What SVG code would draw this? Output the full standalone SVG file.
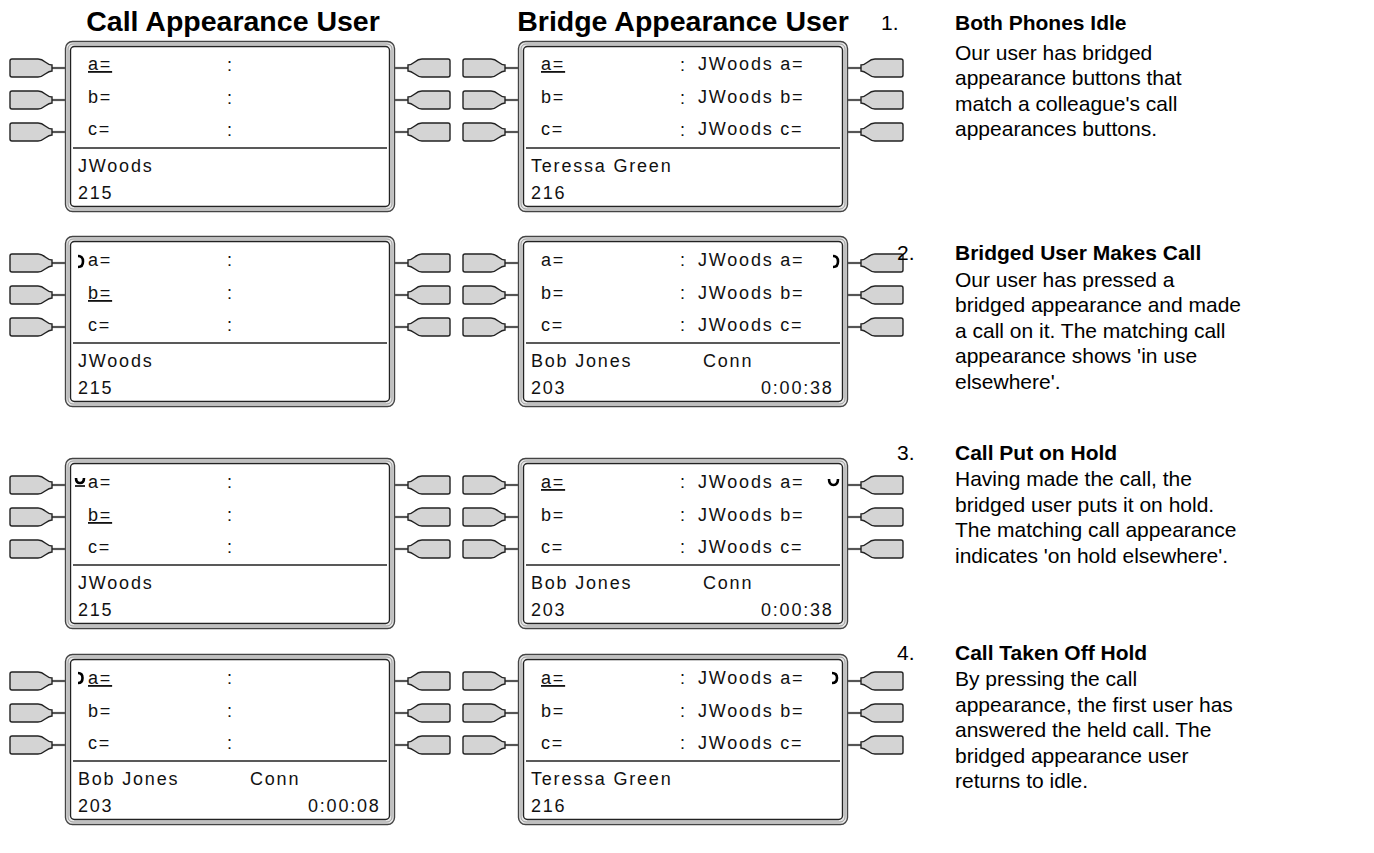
<svg xmlns="http://www.w3.org/2000/svg" xmlns:xlink="http://www.w3.org/1999/xlink" width="1374" height="853" viewBox="0 0 1374 853">
<style>
.t{font-family:"Liberation Sans",Arial,sans-serif;font-size:18px;letter-spacing:1.8px;fill:#111}
.u{text-decoration:underline}
.h{font-family:"Liberation Sans",Arial,sans-serif;font-size:28.5px;font-weight:bold;fill:#000}
.d{font-family:"Liberation Sans",Arial,sans-serif;font-size:21px;fill:#000}
.b{font-weight:bold}
.ic{fill:none;stroke:#000;stroke-width:2.6}
</style>
<defs>
<g id="btn">
<path d="M-13,0 H0" stroke="#555" stroke-width="2.2"/>
<path d="M-53,-9 H-27 C-20,-9 -19,-3 -13,-3 V3 C-19,3 -20,9 -27,9 H-53 Q-55,9 -55,7 V-7 Q-55,-9 -53,-9 Z" fill="#d4d4d4" stroke="#222" stroke-width="1.4"/>
</g>
<g id="frame">
<rect x="0.5" y="0.5" width="329" height="170" rx="7" fill="#e6e6e6" stroke="#444" stroke-width="1.4"/>
<rect x="3" y="3" width="324" height="165" rx="5" fill="none" stroke="#9a9a9a" stroke-width="1"/>
<rect x="5.5" y="5.5" width="319" height="160" rx="4" fill="#fff" stroke="#222" stroke-width="1.4"/>
<path d="M8,107 H322" stroke="#222" stroke-width="1.4"/>
<use xlink:href="#btn" x="0" y="27"/>
<use xlink:href="#btn" x="0" y="59"/>
<use xlink:href="#btn" x="0" y="91"/>
<use xlink:href="#btn" transform="translate(330,27) scale(-1,1)"/>
<use xlink:href="#btn" transform="translate(330,59) scale(-1,1)"/>
<use xlink:href="#btn" transform="translate(330,91) scale(-1,1)"/>
<text class="t" x="162" y="30">:</text>
<text class="t" x="162" y="63">:</text>
<text class="t" x="162" y="95">:</text>
</g>
</defs>
<rect width="1374" height="853" fill="#fff"/>

<g id="titles">
<text class="h" x="233" y="31" text-anchor="middle">Call Appearance User</text>
<text class="h" x="683" y="31" text-anchor="middle">Bridge Appearance User</text>
</g>

<!-- Row 1 -->
<g id="r1-call" transform="translate(65,41)">
<use xlink:href="#frame"/>
<text class="t u" x="23" y="29">a=</text>
<text class="t" x="23" y="62">b=</text>
<text class="t" x="23" y="94">c=</text>
<text class="t" x="13" y="131">JWoods</text>
<text class="t" x="13" y="158">215</text>
</g>
<g id="r1-bridge" transform="translate(518,41)">
<use xlink:href="#frame"/>
<text class="t u" x="23" y="29">a=</text>
<text class="t" x="23" y="62">b=</text>
<text class="t" x="23" y="94">c=</text>
<text class="t" x="180" y="29">JWoods a=</text>
<text class="t" x="180" y="62">JWoods b=</text>
<text class="t" x="180" y="94">JWoods c=</text>
<text class="t" x="13" y="131">Teressa Green</text>
<text class="t" x="13" y="158">216</text>
</g>

<!-- Row 2 -->
<g id="r2-call" transform="translate(65,236)">
<use xlink:href="#frame"/>
<path class="ic" d="M13,20 C17,20 18,23 18,25.5 C18,28 17,31 13,31"/>
<text class="t" x="23" y="30">a=</text>
<text class="t u" x="23" y="63">b=</text>
<text class="t" x="23" y="95">c=</text>
<text class="t" x="13" y="131">JWoods</text>
<text class="t" x="13" y="158">215</text>
</g>
<g id="r2-bridge" transform="translate(518,236)">
<use xlink:href="#frame"/>
<text class="t" x="23" y="30">a=</text>
<text class="t" x="23" y="63">b=</text>
<text class="t" x="23" y="95">c=</text>
<text class="t" x="180" y="30">JWoods a=</text>
<text class="t" x="180" y="63">JWoods b=</text>
<text class="t" x="180" y="95">JWoods c=</text>
<path class="ic" d="M315,20 C319,20 320,23 320,25.5 C320,28 319,31 315,31"/>
<text class="t" x="13" y="131">Bob Jones</text>
<text class="t" x="185" y="131">Conn</text>
<text class="t" x="13" y="158">203</text>
<text class="t" x="243" y="158">0:00:38</text>
</g>

<!-- Row 3 -->
<g id="r3-call" transform="translate(65,458)">
<use xlink:href="#frame"/>
<path class="ic" d="M11,20 Q11,25 15,25 Q19,25 19,20" stroke-width="2.2"/>
<path d="M10,28 H20" stroke="#000" stroke-width="1.6"/>
<text class="t" x="23" y="30">a=</text>
<text class="t u" x="23" y="63">b=</text>
<text class="t" x="23" y="95">c=</text>
<text class="t" x="13" y="131">JWoods</text>
<text class="t" x="13" y="158">215</text>
</g>
<g id="r3-bridge" transform="translate(518,458)">
<use xlink:href="#frame"/>
<text class="t u" x="23" y="30">a=</text>
<text class="t" x="23" y="63">b=</text>
<text class="t" x="23" y="95">c=</text>
<text class="t" x="180" y="30">JWoods a=</text>
<text class="t" x="180" y="63">JWoods b=</text>
<text class="t" x="180" y="95">JWoods c=</text>
<path class="ic" d="M311,21 Q311,27 315.5,27 Q320,27 320,21"/>
<text class="t" x="13" y="131">Bob Jones</text>
<text class="t" x="185" y="131">Conn</text>
<text class="t" x="13" y="158">203</text>
<text class="t" x="243" y="158">0:00:38</text>
</g>

<!-- Row 4 -->
<g id="r4-call" transform="translate(65,654)">
<use xlink:href="#frame"/>
<path class="ic" d="M13,19 C16.5,19 17.5,21.5 17.5,24 C17.5,26.5 16.5,29 13,29"/>
<text class="t u" x="23" y="30">a=</text>
<text class="t" x="23" y="63">b=</text>
<text class="t" x="23" y="95">c=</text>
<text class="t" x="13" y="131">Bob Jones</text>
<text class="t" x="185" y="131">Conn</text>
<text class="t" x="13" y="158">203</text>
<text class="t" x="243" y="158">0:00:08</text>
</g>
<g id="r4-bridge" transform="translate(518,654)">
<use xlink:href="#frame"/>
<text class="t u" x="23" y="30">a=</text>
<text class="t" x="23" y="63">b=</text>
<text class="t" x="23" y="95">c=</text>
<text class="t" x="180" y="30">JWoods a=</text>
<text class="t" x="180" y="63">JWoods b=</text>
<text class="t" x="180" y="95">JWoods c=</text>
<path class="ic" d="M314,19 C318,19 319,21.5 319,24 C319,26.5 318,29 314,29"/>
<text class="t" x="13" y="131">Teressa Green</text>
<text class="t" x="13" y="158">216</text>
</g>

<!-- Descriptions -->
<g id="step1">
<text class="d" x="881" y="30">1.</text>
<text class="d b" x="955" y="30">Both Phones Idle</text>
<text class="d" x="955" y="59.5">Our user has bridged</text>
<text class="d" x="955" y="85">appearance buttons that</text>
<text class="d" x="955" y="110.5">match a colleague's call</text>
<text class="d" x="955" y="136">appearances buttons.</text>
</g>
<g id="step2">
<text class="d" x="897" y="259.5">2.</text>
<text class="d b" x="955" y="259.5">Bridged User Makes Call</text>
<text class="d" x="955" y="286.5">Our user has pressed a</text>
<text class="d" x="955" y="312">bridged appearance and made</text>
<text class="d" x="955" y="337.5">a call on it. The matching call</text>
<text class="d" x="955" y="363">appearance shows 'in use</text>
<text class="d" x="955" y="388.5">elsewhere'.</text>
</g>
<g id="step3">
<text class="d" x="897" y="459.5">3.</text>
<text class="d b" x="955" y="459.5">Call Put on Hold</text>
<text class="d" x="955" y="486">Having made the call, the</text>
<text class="d" x="955" y="511.5">bridged user puts it on hold.</text>
<text class="d" x="955" y="537">The matching call appearance</text>
<text class="d" x="955" y="562.5">indicates 'on hold elsewhere'.</text>
</g>
<g id="step4">
<text class="d" x="897" y="659.5">4.</text>
<text class="d b" x="955" y="659.5">Call Taken Off Hold</text>
<text class="d" x="955" y="686">By pressing the call</text>
<text class="d" x="955" y="711.5">appearance, the first user has</text>
<text class="d" x="955" y="737">answered the held call. The</text>
<text class="d" x="955" y="762.5">bridged appearance user</text>
<text class="d" x="955" y="788">returns to idle.</text>
</g>
</svg>
